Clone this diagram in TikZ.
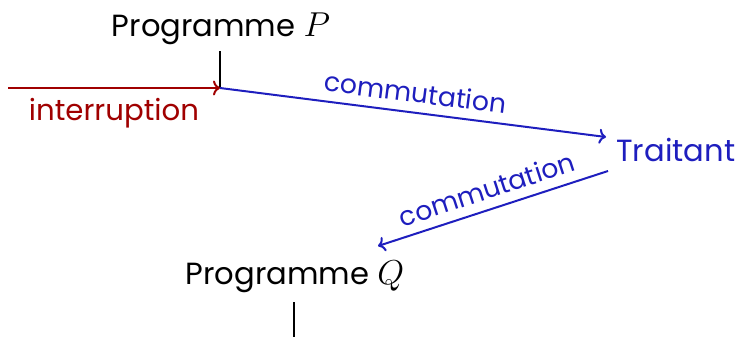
\documentclass[tikz,border=0pt]{standalone}
\usepackage{fontspec}
\setmainfont{Poppins}
\usetikzlibrary{arrows.meta}
\definecolor{myred}{RGB}{160,0,0}
\definecolor{myblue}{RGB}{30,30,190}
\newcommand{\bigmath}[1]{{\fontsize{18.5}{20}\selectfont$#1$}}
\begin{document}
\begin{tikzpicture}[x=0.5pt,y=-0.5pt,
  big/.style={font=\fontsize{15.3}{18}\selectfont, inner sep=0pt},
  lab/.style={font=\fontsize{13.3}{16}\selectfont, inner sep=0pt},
  conn/.style={line width=1pt, -{To[length=3.5pt,width=7.5pt]}},
  tick/.style={line width=0.75pt, black}]
\useasboundingbox (0,0) rectangle (738,337);
% nodes
\node[big, anchor=base] (P) at (221,36) {Programme \bigmath{P}};
\node[big, anchor=base west, text=myblue] (T) at (616,161) {Traitant};
\node[big, anchor=base] (Q) at (295,284) {Programme \bigmath{Q}};
% coordinates
\coordinate (pP) at (220,88);
\coordinate (pPtop) at (220,51);
\coordinate (in) at (8,88);
\coordinate (tin) at (606,137);
\coordinate (tout) at (608,171);
\coordinate (qin) at (378,246);
\coordinate (qtop) at (294,302);
\coordinate (qbot) at (294,337);
% ticks
\draw[tick] (pPtop) -- (pP);
\draw[tick] (qtop) -- (qbot);
% connectors
\draw[conn, myred] (in) -- node[lab, font=\fontsize{14.6}{17}\selectfont, below=4.5pt, text=myred] {interruption} (pP);
\draw[conn, myblue] (pP) -- node[lab, sloped, above=4.5pt, text=myblue] {commutation} (tin);
\draw[conn, myblue] (tout) -- node[lab, sloped, above=4.5pt, text=myblue] {commutation} (qin);
\end{tikzpicture}
\end{document}
